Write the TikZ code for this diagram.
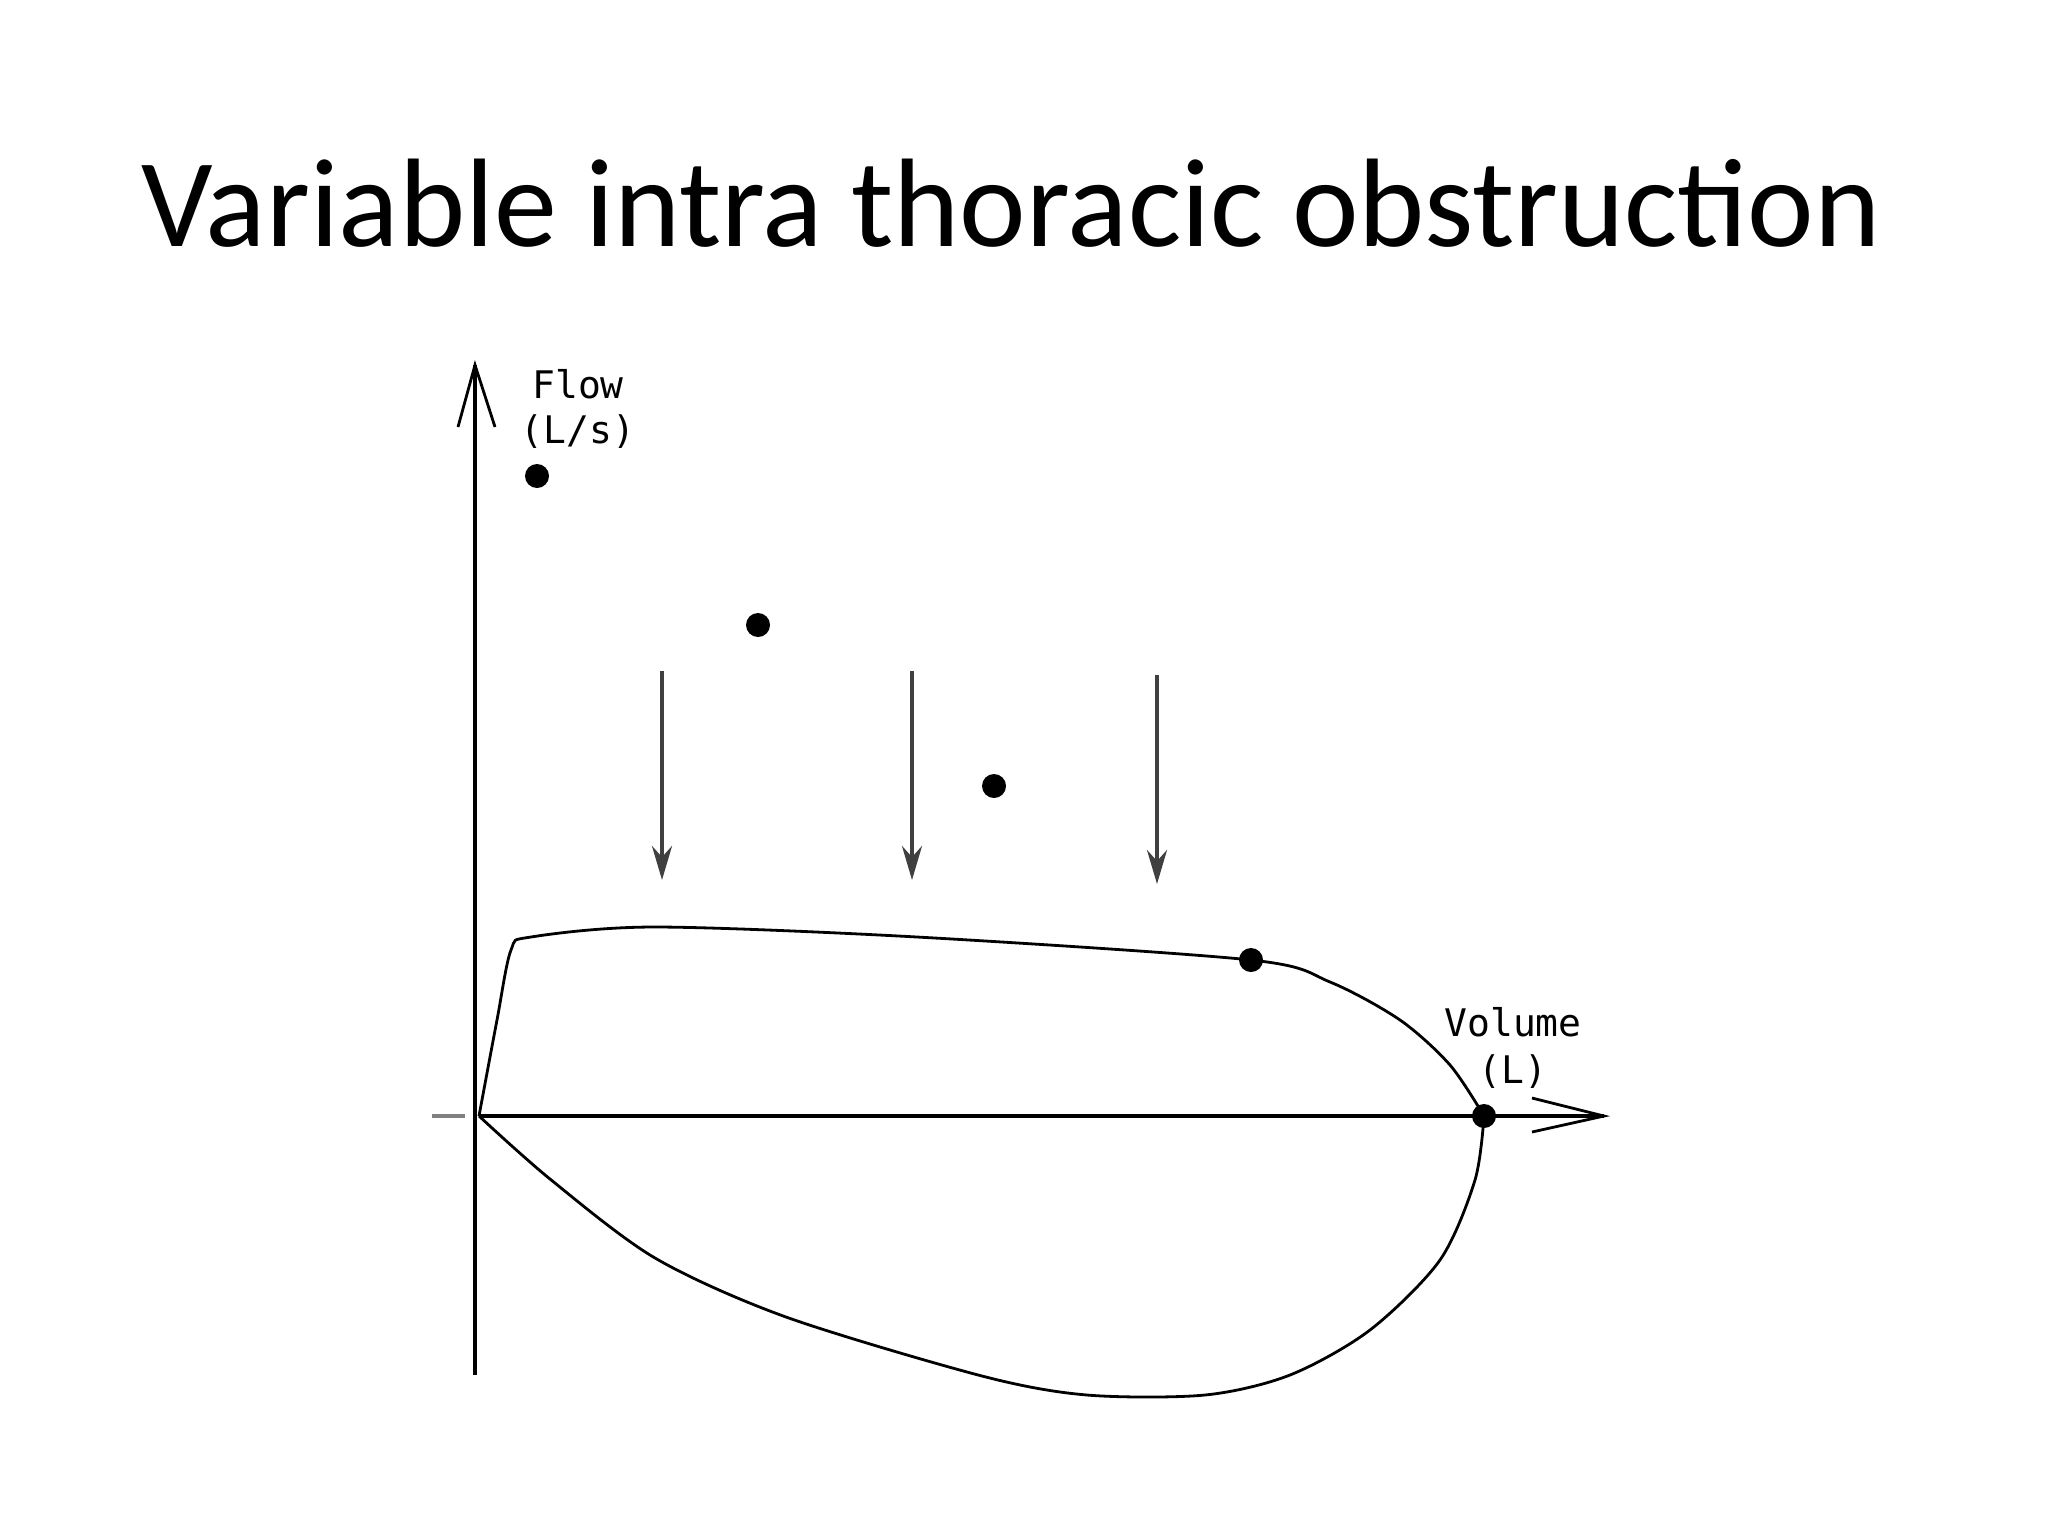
\documentclass[tikz,border=0pt]{standalone}
\usepackage{fontspec}
\setmainfont{Carlito}
\newfontfamily\pix{DejaVu Sans Mono}
\usetikzlibrary{arrows.meta}
\begin{document}
\begin{tikzpicture}[x=0.5pt,y=-0.5pt,
  dot/.style={circle,fill=black,inner sep=0pt,minimum size=12pt},
  axis/.style={line width=1.6pt},
  curve/.style={line width=1.4pt},
  downarrow/.style={line width=1.8pt,draw=black!75,-{Stealth[length=17pt,width=10pt]}},
  lab/.style={font=\pix\fontsize{19}{22}\selectfont,inner sep=0pt}]
\useasboundingbox (0,0) rectangle (2048,1536);
\node (title) at (1011,203) {\fontsize{63}{75}\selectfont Variable intra thoracic obstruction};
\coordinate (o) at (479,1116);
\coordinate (ytop) at (475,365);
\coordinate (ybot) at (475,1375);
\coordinate (xend) at (1604,1116);
\draw[axis] (ybot) -- (ytop);
\draw[line width=1.4pt] (458,427) -- (475,365) -- (495,427);
\draw[axis] (o) -- (xend);
\draw[line width=1.4pt] (1532,1098) -- (xend) -- (1532,1132);
\draw[line width=1.6pt,gray] (432,1116) -- (465,1116);
\node[lab] (flow) at (578,384) {Flow};
\node[lab] (flu) at (578,432) {(L/s)};
\node[lab] (vol) at (1513,1022) {Volume};
\node[lab] (vu) at (1513,1072) {(L)};
\node[dot] (d1) at (537,476) {};
\node[dot] (d2) at (758,625) {};
\node[dot] (d3) at (994,786) {};
\node[dot] (d4) at (1251,960) {};
\node[dot] (d5) at (1484,1116) {};
\coordinate (a1s) at (662,671); \coordinate (a1e) at (662,880);
\coordinate (a2s) at (912,671); \coordinate (a2e) at (912,880);
\coordinate (a3s) at (1157,675); \coordinate (a3e) at (1157,884);
\draw[downarrow] (a1s) -- (a1e);
\draw[downarrow] (a2s) -- (a2e);
\draw[downarrow] (a3s) -- (a3e);
\draw[curve] plot[smooth,tension=0.5] coordinates {(479,1116) (497,1020) (511,950) (531,937) (655,927) (917,937) (1251,960) (1330,982) (1400,1020) (1450,1065) (1484,1116)};
\draw[curve] plot[smooth,tension=0.5] coordinates {(479,1116) (550,1179) (655,1258) (786,1317) (982,1376) (1087,1395) (1205,1395) (1290,1375) (1370,1330) (1440,1260) (1475,1180) (1484,1116)};
\end{tikzpicture}
\end{document}
